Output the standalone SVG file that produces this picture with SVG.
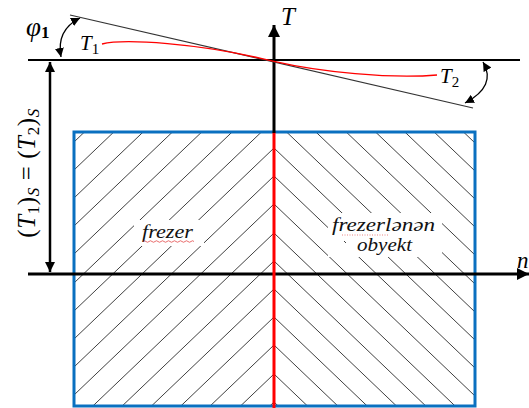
<svg xmlns="http://www.w3.org/2000/svg" width="529" height="408" viewBox="0 0 529 408">
<style>
.math{font-family:"Liberation Serif","Times New Roman",serif;font-style:italic;fill:#000}
.up{font-style:normal}
.lbl{font-family:"Liberation Serif","Times New Roman",serif;font-style:italic;fill:#111;font-size:18px}
.hatch{fill:none;stroke:#2a2a2a;stroke-width:0.9}
.axis{stroke:#000;fill:none}
.tan{stroke:#333;stroke-width:1.2;fill:none}
</style>
<defs>
<clipPath id="box"><rect x="74" y="132" width="401" height="274"/></clipPath>
<marker id="bigHead" viewBox="0 0 10 10" refX="10" refY="5" markerWidth="13" markerHeight="12" markerUnits="userSpaceOnUse" orient="auto-start-reverse"><path d="M0,0L10,5L0,10z" fill="#000"/></marker>
<marker id="midHead" viewBox="0 0 10 10" refX="10" refY="5" markerWidth="10" markerHeight="10" markerUnits="userSpaceOnUse" orient="auto-start-reverse"><path d="M0,0L10,5L0,10z" fill="#000"/></marker>
<marker id="smallHead" viewBox="0 0 10 10" refX="10" refY="5" markerWidth="9" markerHeight="9" markerUnits="userSpaceOnUse" orient="auto-start-reverse"><path d="M0,0L10,5L0,10z" fill="#000"/></marker>
</defs>
<rect width="529" height="408" fill="#fff"/>

<g id="hatching" clip-path="url(#box)">
<path class="hatch" d="M274,-49l-200,191M274,-21l-200,191M274,7l-200,191M274,35l-200,191M274,63l-200,191M274,92l-200,191M274,120l-200,191M274,148l-200,191M274,176l-200,191M274,204l-200,191M274,233l-200,191M274,261l-200,191M274,289l-200,191M274,317l-200,191M274,345l-200,191M274,374l-200,191M274,402l-200,191"/>
<path class="hatch" d="M274,-49l201,192M274,-21l201,192M274,7l201,192M274,35l201,192M274,63l201,192M274,92l201,192M274,120l201,192M274,148l201,192M274,176l201,192M274,204l201,192M274,233l201,192M274,261l201,192M274,289l201,192M274,317l201,192M274,345l201,192M274,374l201,192M274,402l201,192"/>
</g>

<g id="frezer">
<rect x="134" y="220" width="70" height="26" fill="#fff"/>
<text class="lbl" x="142" y="238" textLength="51" lengthAdjust="spacingAndGlyphs">frezer</text>
<path d="M143,241.5q1.5,-1.5 3,0t3,0t3,0t3,0t3,0t3,0t3,0t3,0t3,0t3,0t3,0t3,0t3,0t3,0t3,0t3,0t3,0" fill="none" stroke="#e03030" stroke-width="0.7"/>
</g>

<g id="obyekt">
<rect x="328" y="213" width="114" height="44" fill="#fff"/>
<text class="lbl" x="332" y="231" font-size="17" textLength="103" lengthAdjust="spacingAndGlyphs">frezerlənən</text>
<text class="lbl" x="357" y="251" font-size="17" textLength="55" lengthAdjust="spacingAndGlyphs">obyekt</text>
<line x1="342" y1="235" x2="388" y2="235" stroke="#e05050" stroke-width="0.7" stroke-dasharray="1,1.5"/>
<path d="M344,241l2,2" stroke="#444" stroke-width="1"/>
</g>

<g id="block">
<rect x="74" y="132" width="401" height="274" fill="none" stroke="#0a70c0" stroke-width="3"/>
</g>

<g id="connectors">
<line class="axis" x1="28" y1="274" x2="529" y2="274" stroke-width="3" marker-end="url(#bigHead)"/>
<line x1="274" y1="132" x2="274" y2="408" stroke="#ff0000" stroke-width="3"/>
<line class="axis" x1="274" y1="133" x2="274" y2="25" stroke-width="3" marker-end="url(#bigHead)"/>
<line class="axis" x1="28" y1="60" x2="520" y2="60" stroke-width="2"/>
<line class="axis" x1="50" y1="62" x2="50" y2="272" stroke-width="2.5" marker-start="url(#midHead)" marker-end="url(#midHead)"/>
<line class="tan" x1="70" y1="15" x2="473" y2="108"/>
<path d="M102,44C125,38 200,44 262,58.6L274,61.4C320,72 390,79 437,75" fill="none" stroke="#ff0000" stroke-width="1.3"/>
<path class="axis" d="M61,57Q56,30 80,18" stroke-width="1.3" marker-start="url(#smallHead)" marker-end="url(#smallHead)"/>
<path class="axis" d="M483,62Q497,86 465,103" stroke-width="1.3" marker-start="url(#smallHead)" marker-end="url(#smallHead)"/>
</g>

<g id="labels">
<text class="math" x="281" y="25" font-size="25">T</text>
<text class="math" x="517" y="268" font-size="23">n</text>
<text class="math" x="80" y="50" font-size="21">T<tspan class="up" font-size="15" dy="4">1</tspan></text>
<text class="math" x="440" y="83" font-size="21">T<tspan class="up" font-size="15" dy="4">2</tspan></text>
<text class="math" x="26" y="36" font-size="27">φ<tspan class="up" font-size="17" font-weight="bold" dy="2">1</tspan></text>
<text class="math" transform="translate(35,173) rotate(-90)" text-anchor="middle" font-size="25" letter-spacing="0.6"><tspan class="up">(</tspan>T<tspan class="up" font-size="17" dy="4">1</tspan><tspan class="up" dy="-4">)</tspan><tspan font-size="17" dy="4">S</tspan><tspan class="up" dy="-4"> = (</tspan>T<tspan class="up" font-size="17" dy="4">2</tspan><tspan class="up" dy="-4">)</tspan><tspan font-size="17" dy="4">S</tspan></text>
</g>
</svg>
